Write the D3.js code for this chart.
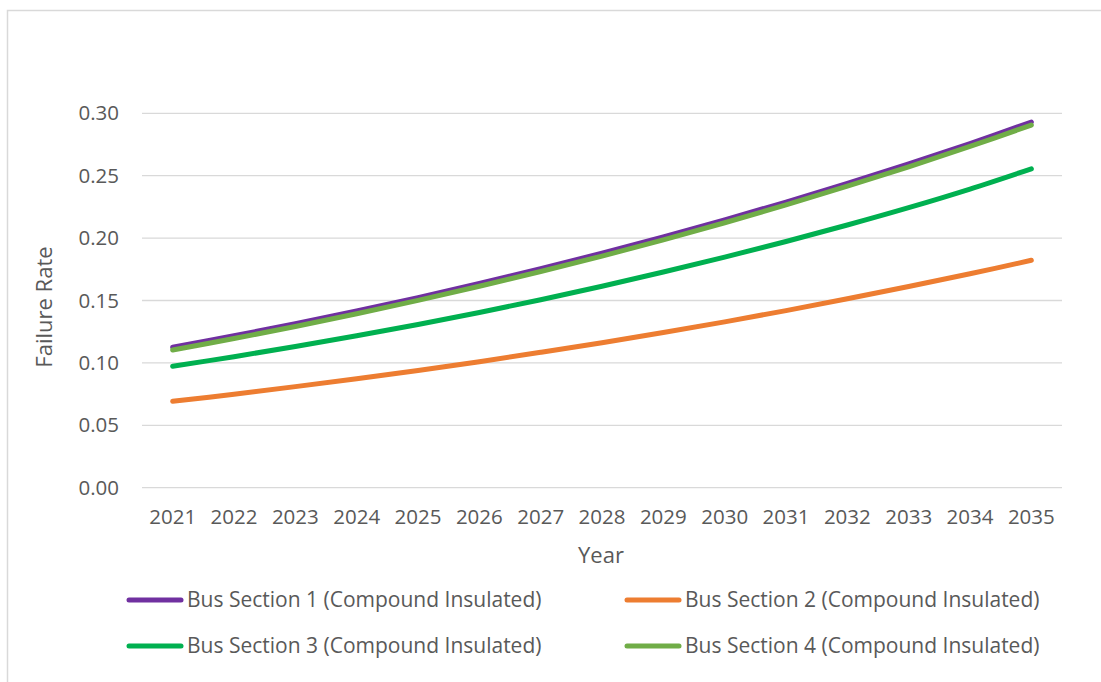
<!DOCTYPE html>
<html>
<head>
<meta charset="utf-8">
<script src="https://cdn.jsdelivr.net/npm/d3@7"></script>
<style>
  html, body { margin: 0; padding: 0; background: #fff; }
  svg { display: block; }
  text { font-family: "Open Sans", "Liberation Sans", sans-serif; fill: #595959; }
</style>
</head>
<body>
<svg id="chart" width="1101" height="682"></svg>
<script>
const years = ["2021","2022","2023","2024","2025","2026","2027","2028","2029","2030","2031","2032","2033","2034","2035"];
const yTicks = [0, 0.05, 0.10, 0.15, 0.20, 0.25, 0.30];
const seriesNames = [
  "Bus Section 1 (Compound Insulated)",
  "Bus Section 2 (Compound Insulated)",
  "Bus Section 3 (Compound Insulated)",
  "Bus Section 4 (Compound Insulated)"
];
const seriesColors = ["#7030A0", "#ED7D31", "#00B050", "#70AD47"];
const bus1 = [0.1125,0.1217,0.1314,0.1416,0.1523,0.1636,0.1755,0.1879,0.2009,0.2146,0.2289,0.2439,0.2595,0.2758,0.2930];
const bus2 = [0.0692,0.0749,0.0810,0.0873,0.0939,0.1010,0.1085,0.1162,0.1244,0.1329,0.1419,0.1514,0.1612,0.1714,0.1822];
const bus3 = [0.0973,0.1050,0.1131,0.1217,0.1308,0.1404,0.1506,0.1614,0.1728,0.1848,0.1973,0.2105,0.2244,0.2393,0.2555];
const bus4 = [0.1103,0.1195,0.1292,0.1394,0.1501,0.1614,0.1732,0.1856,0.1986,0.2123,0.2266,0.2416,0.2571,0.2734,0.2906];
const allSeries = [bus1, bus2, bus3, bus4];

const svg = d3.select("#chart");

// outer chart border (cropped at right/bottom)
svg.append("rect")
  .attr("x", 7.5).attr("y", 10.5)
  .attr("width", 1110).attr("height", 700)
  .attr("fill", "none").attr("stroke", "#d9d9d9").attr("stroke-width", 1.5);

const x = d3.scaleBand().domain(years).range([142, 1062]);
const y = d3.scaleLinear().domain([0, 0.30]).range([487.7, 113.3]);

// gridlines
svg.append("g")
  .selectAll("line").data(yTicks).join("line")
  .attr("x1", 142).attr("x2", 1062)
  .attr("y1", d => y(d)).attr("y2", d => y(d))
  .attr("stroke", "#d9d9d9").attr("stroke-width", 1.3);

// y axis
const yAxis = svg.append("g")
  .attr("transform", "translate(128,0)")
  .call(d3.axisLeft(y).tickValues(yTicks).tickFormat(d3.format(".2f")).tickSize(0).tickPadding(9));
yAxis.select(".domain").remove();
yAxis.selectAll("text").style("font-size", "20.5px").attr("fill", "#595959")
  .style("font-family", "'Open Sans', sans-serif");

// x axis
const xAxis = svg.append("g")
  .attr("transform", "translate(0,488)")
  .call(d3.axisBottom(x).tickSize(0).tickPadding(21));
xAxis.select(".domain").remove();
xAxis.selectAll("text").style("font-size", "20.5px").attr("fill", "#595959")
  .style("font-family", "'Open Sans', sans-serif");

// axis titles
svg.append("text")
  .attr("x", 601).attr("y", 563)
  .attr("text-anchor", "middle")
  .style("font-size", "22px")
  .text("Year");
svg.append("text")
  .attr("transform", "translate(52,307) rotate(-90)")
  .attr("text-anchor", "middle")
  .style("font-size", "22px")
  .text("Failure Rate");

// lines
const line = d3.line()
  .x((d, i) => x(years[i]) + x.bandwidth() / 2)
  .y(d => y(d))
  .curve(d3.curveCatmullRom.alpha(0.5));

svg.append("g")
  .selectAll("path").data(allSeries).join("path")
  .attr("d", d => line(d))
  .attr("fill", "none")
  .attr("stroke", (d, i) => seriesColors[i])
  .attr("stroke-width", 5)
  .attr("stroke-linecap", "round")
  .attr("stroke-linejoin", "round");

// legend
const legendPos = [
  {lx: 129, ly: 600},
  {lx: 627, ly: 600},
  {lx: 129, ly: 646},
  {lx: 627, ly: 646}
];
const lg = svg.append("g");
seriesNames.forEach((name, i) => {
  const p = legendPos[i];
  lg.append("line")
    .attr("x1", p.lx).attr("x2", p.lx + 52)
    .attr("y1", p.ly).attr("y2", p.ly)
    .attr("stroke", seriesColors[i]).attr("stroke-width", 5)
    .attr("stroke-linecap", "round");
  lg.append("text")
    .attr("x", p.lx + 58).attr("y", p.ly)
    .attr("dy", "0.35em")
    .style("font-size", "21px")
    .text(name);
});
</script>
</body>
</html>
